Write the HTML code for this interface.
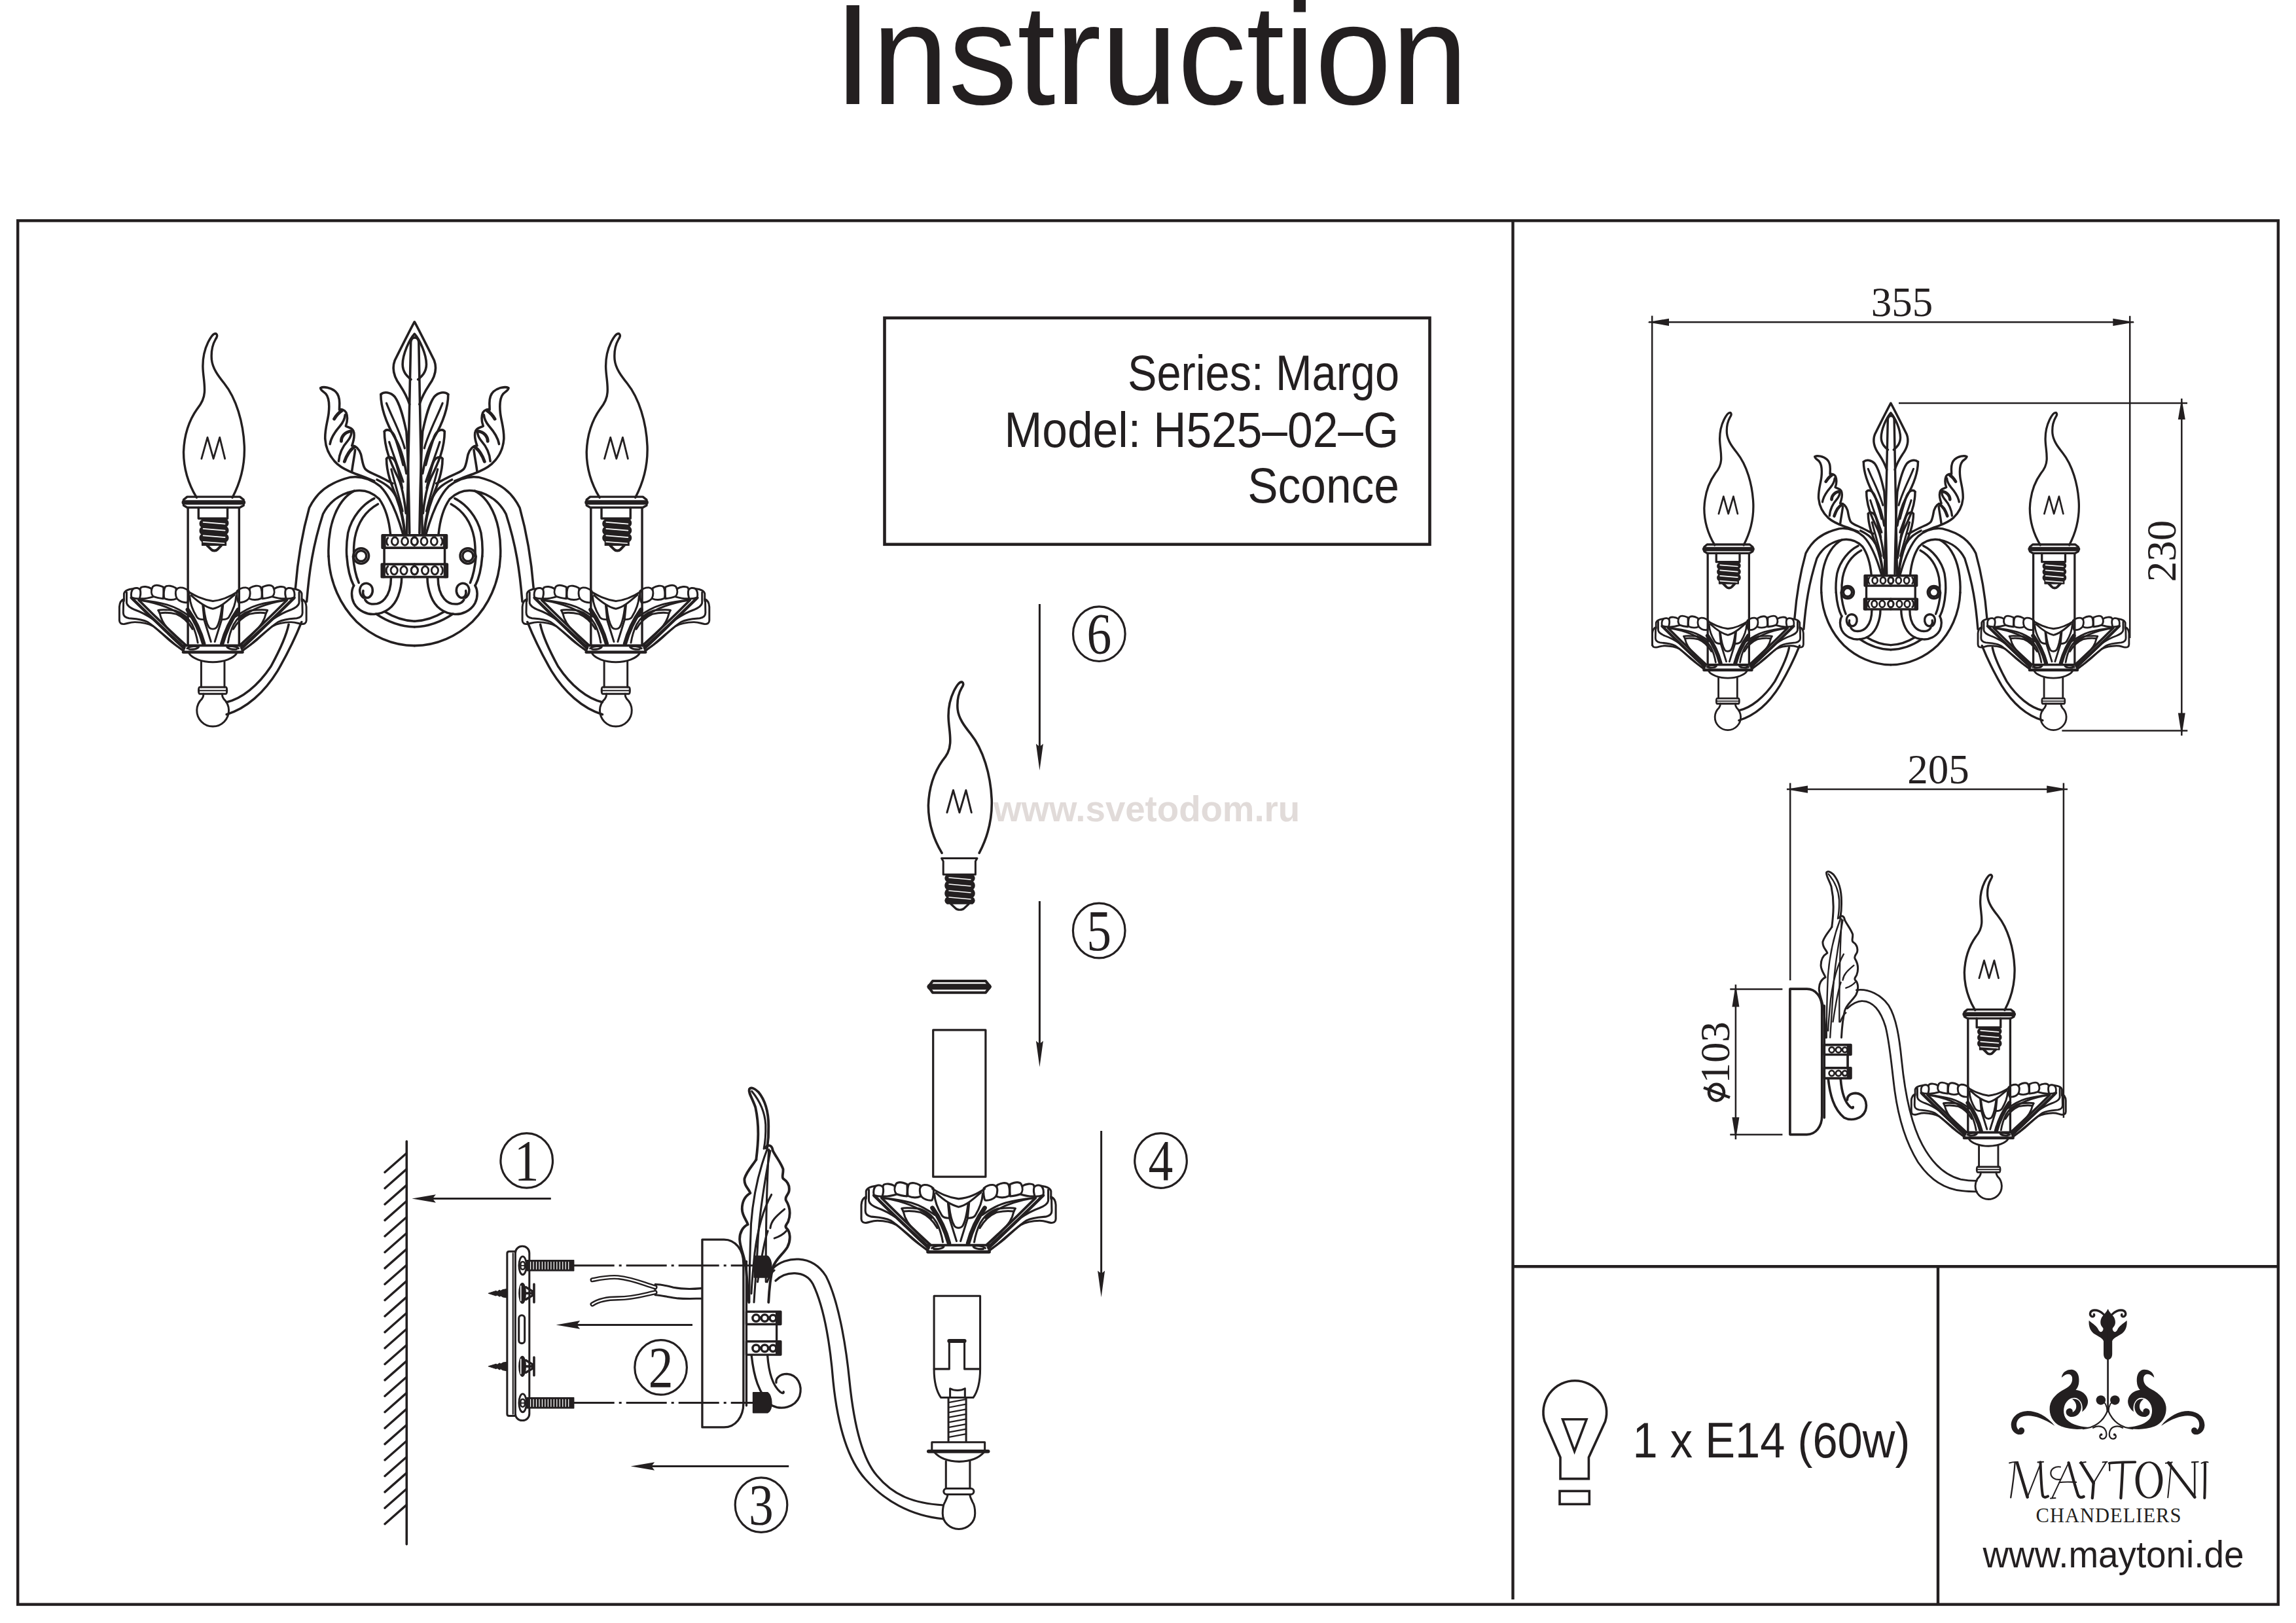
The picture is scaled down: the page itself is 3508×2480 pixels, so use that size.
<!DOCTYPE html>
<html><head><meta charset="utf-8"><style>
html,body{margin:0;padding:0;background:#fff;width:3508px;height:2480px;overflow:hidden}
svg{display:block}
</style></head><body>
<svg width="3508" height="2480" viewBox="0 0 3508 2480" font-family="Liberation Sans, sans-serif">
<defs><g id="cupHalf" fill="none" stroke="#231f20" stroke-width="40.00" stroke-linecap="round" stroke-linejoin="round">
<path d="M195,480 C140,500 105,560 100,640 L100,920 C102,978 140,1000 200,995 C280,985 300,955 420,955 C560,958 700,985 800,1040 C920,1130 1080,1270 1220,1390 C1300,1460 1370,1510 1430,1560"/>
<path d="M185,500 L180,760 C180,820 215,860 300,875 C420,885 560,890 680,950 C800,1020 960,1180 1120,1320 C1250,1430 1360,1500 1430,1545"/>
<path d="M195,520 L195,365 C210,320 260,290 310,278 L395,262"/>
<path d="M250,340 L250,560 C262,620 320,660 420,700 C560,750 700,830 800,900 C950,1040 1200,1300 1440,1510"/>
<path d="M350,452 C600,700 900,1000 1440,1480" stroke-width="60.00"/>
<path d="M500,500 C700,700 1000,1000 1480,1440" stroke-width="50.00"/>
<path d="M545,505 C700,520 900,545 1100,600 C1300,660 1450,760 1560,840"/>
<path d="M520,500 C900,560 1250,680 1500,900"/>
<path d="M905,712 C950,695 1100,700 1250,715 C1400,760 1520,860 1600,1000 C1660,1120 1700,1260 1720,1380"/>
<path d="M935,770 C1000,760 1150,760 1280,790 C1420,850 1530,960 1610,1100"/>
<path d="M905,712 L935,775 C960,900 1040,1040 1180,1170 C1300,1290 1400,1380 1460,1420"/>
<path d="M1512,700 C1640,880 1760,1100 1842,1400" stroke-width="87.50"/>
<path d="M1552,420 C1560,560 1620,720 1700,850 C1730,890 1790,905 1852,900 L1822,600"/>
<path d="M1852,910 L1992,1360"/>
<path d="M1500,1500 C1560,1450 1700,1440 1740,1470 C1720,1510 1620,1525 1540,1515"/>
<g fill="#fff">
<path d="M525,470 C510,400 510,290 545,240 C590,210 690,220 760,262 L800,430 C700,460 600,475 525,470 Z"/>
<path d="M350,445 C335,380 345,295 395,262 C440,240 505,245 530,290 C548,350 530,430 515,472 C450,472 395,465 350,445 Z"/>
<path d="M800,425 C755,380 750,300 790,222 C830,178 920,190 1010,232 C1015,330 1012,420 1005,470 C930,462 850,445 800,425 Z"/>
<path d="M1025,462 C1012,380 1018,265 1052,222 C1100,190 1190,205 1268,250 C1280,330 1285,420 1280,470 C1200,505 1100,495 1025,462 Z"/>
<path d="M1262,362 C1255,300 1292,247 1350,242 C1420,238 1490,272 1532,312 C1545,400 1525,515 1505,548 C1420,560 1335,522 1292,472 C1272,440 1262,400 1262,362 Z"/>
</g>
</g>
<g id="cupCenterTop" fill="none" stroke="#231f20" stroke-width="40.00" stroke-linecap="round" stroke-linejoin="round">
<path d="M1512,320 C1650,400 1800,490 2032,520 C2250,500 2400,420 2552,320"/>
<path d="M1582,400 C1700,510 1850,640 2032,680 C2200,650 2350,500 2482,390"/>
<path d="M1842,640 C1860,800 1900,980 1950,1060 C1990,1110 2070,1110 2112,1060 C2160,980 2200,800 2222,620"/>
<path d="M1430,1440 L2640,1440" stroke-width="50.00"/>
<path d="M1420,1575 L2644,1575" stroke-width="62.50"/>
</g>
<g id="cupStem" fill="none" stroke="#231f20" stroke-width="40.00" stroke-linecap="round" stroke-linejoin="round">
<path d="M1541,1604 C1600,1700 1800,1781 2031,1781 C2262,1781 2460,1700 2520,1604"/>
<path d="M1791,1770 L1791,2300 M2272,1770 L2272,2300"/>
<path d="M1760,2300 C1730,2300 1730,2437 1760,2437 L2300,2437 C2330,2437 2330,2300 2300,2300 Z"/>
<path d="M1745,2370 L2315,2370" stroke-width="25.00"/>
<path d="M1840,2437 C1840,2490 1820,2520 1806,2540 A330,330 0 1 0 2256,2540 C2242,2520 2222,2490 2222,2437"/>
</g>
<g id="cup">
<use href="#cupHalf"/>
<use href="#cupHalf" transform="translate(4064,0) scale(-1,1)"/>
<use href="#cupCenterTop"/><use href="#cupStem"/>
</g>
<g id="candle" fill="none" stroke="#231f20" stroke-width="15.00" stroke-linecap="round" stroke-linejoin="round">
<path d="M285,88 C270,80 250,110 232,145 C210,190 196,250 197,310 C198,370 212,420 208,480 C205,530 185,560 160,590 C110,660 72,760 68,880 C68,1000 110,1110 155,1185"/>
<path d="M285,88 C298,95 292,110 282,125 C262,160 252,210 256,260 C262,320 300,370 340,420 C420,520 468,680 475,840 C480,980 440,1100 395,1185"/>
<path d="M188,925 L228,782 L268,925 L310,782 L345,925" stroke-width="12.50"/>
<path d="M92,1180 L445,1180 L470,1200 L470,1238 L445,1252 L92,1252 L68,1238 L68,1200 Z"/>
<path d="M70,1218 L468,1218" stroke-width="30.00"/>
<path d="M97,1252 L97,2177 M440,1252 L440,2177"/>
<path d="M168,1252 L168,1325 L362,1325 L362,1252"/>
<path d="M190,1330 L350,1330 C372,1342 372,1368 352,1380 C372,1392 372,1418 352,1430 C372,1442 372,1468 352,1480 L352,1505 L192,1505 L192,1480 C172,1468 172,1442 192,1432 C172,1420 172,1394 192,1384 C172,1372 172,1346 192,1336 Z" fill="#231f20" stroke-width="7.50"/>
<path d="M200,1350 L345,1362 M200,1394 L345,1406 M200,1440 L345,1452 M200,1482 L340,1492" stroke="#fff" stroke-width="7.50"/>
<path d="M225,1505 L252,1532 C262,1544 286,1544 296,1532 L322,1505" stroke-width="17.50"/>
</g>
<g id="frontHalf" fill="none" stroke="#231f20" stroke-linecap="round" stroke-linejoin="round">
 <!-- lower arm (ZR coords) -->
 <g transform="translate(340,720) scale(0.24649)" stroke-width="14.25">
  <path d="M25,1508 C150,1470 260,1370 340,1240 C410,1120 460,1010 490,935"/>
  <path d="M25,1432 C120,1410 220,1330 300,1210 C360,1100 400,1000 410,950"/>
 </g>
 <!-- upper arm & plate (ZS coords) -->
 <g transform="translate(440,690) scale(0.19099)" stroke-width="18.38">
  <path d="M60,1090 C75,900 100,700 170,450 C230,330 320,250 500,205 C580,195 660,215 740,280 C800,340 860,450 920,660"/>
  <path d="M150,1200 C170,950 200,750 280,500 C320,420 400,340 530,315 C620,300 680,330 730,380 C780,450 810,560 820,665"/>
  <path d="M530,315 C440,360 370,470 340,620 C325,700 322,780 325,838"/>
  <path d="M690,375 C600,420 510,520 480,650 C470,710 466,780 470,838"/>
  <path d="M720,420 C630,470 560,560 535,690 C525,750 525,800 528,838"/>
  <circle cx="585" cy="835" r="62"/>
  <circle cx="585" cy="835" r="42"/>
  <path d="M755,670 L1012,670 M755,770 L1012,770 M755,670 L755,770" stroke-width="20.00"/>
  <path d="M770,770 L770,900"/>
  <path d="M770,680 L770,760" stroke-width="27.50"/>
  <g stroke-width="15.00">
   <ellipse cx="855" cy="718" rx="26" ry="32"/><ellipse cx="935" cy="718" rx="26" ry="32"/><ellipse cx="1012" cy="718" rx="26" ry="32"/>
   <path d="M800,690 C785,700 785,740 800,748"/>
  </g>
 </g>
 <!-- lower plate (ZB coords) -->
 <g transform="translate(480,850) scale(0.135026)" stroke-width="26.25">
  <path d="M163,0 C175,300 300,560 480,740 C650,900 880,1010 1135,1012"/>
  <path d="M369,0 C380,150 410,260 448,332"/>
  <path d="M440,0 C450,120 475,230 505,300"/>
  <path d="M700,652 C800,720 950,795 1135,800"/>
  <path d="M800,628 C900,690 1000,730 1135,735"/>
  <path d="M450,330 C420,380 415,460 450,530 C500,620 600,660 680,655 C800,650 900,580 950,450 C980,370 990,300 990,240"/>
  <path d="M870,240 C870,330 850,420 800,480 C760,530 700,545 650,540 C610,535 585,510 575,490"/>
  <path d="M560,470 C510,440 500,360 545,320 C590,290 650,310 660,370 C668,420 640,465 600,470 C565,470 545,430 555,390"/>
  <path d="M765,90 L1135,90 M765,235 L1135,235 M765,90 L765,235" stroke-width="27.50"/>
  <path d="M785,100 L785,225" stroke-width="42.50"/>
  <g stroke-width="21.25">
   <ellipse cx="905" cy="160" rx="38" ry="46"/><ellipse cx="1015" cy="160" rx="38" ry="46"/><ellipse cx="1135" cy="160" rx="38" ry="46"/>
   <path d="M835,115 C810,130 810,190 835,205"/>
  </g>
 </g>
 <!-- far-left leaf (ZF coords) -->
 <g transform="translate(480,580) scale(0.098600)" stroke-width="36.25">
  <path d="M100,130 C140,105 260,120 330,185 C385,235 398,300 392,400 L390,468 C420,455 470,465 495,510 C520,570 515,650 490,720 C510,740 570,735 605,790 C630,840 615,940 585,1025 C640,1020 700,1080 725,1160 C745,1240 750,1330 790,1385 C830,1430 900,1450 980,1490 C1050,1520 1120,1560 1217,1610"/>
  <path d="M100,130 C90,160 140,180 180,220 C230,280 240,380 225,520 C210,650 165,760 170,920 C180,1080 240,1200 360,1310 C440,1380 530,1420 640,1460 C760,1500 850,1540 930,1570"/>
  <path d="M310,610 C340,560 370,520 430,480" stroke-width="50.00"/>
  <path d="M245,1000 C260,900 330,800 400,720 C450,660 475,600 480,545"/>
  <path d="M420,955 C420,880 480,810 570,800" stroke-width="50.00"/>
  <path d="M380,1265 C390,1150 440,1040 520,950 C560,900 575,860 578,820"/>
  <path d="M470,1270 C500,1180 560,1080 625,1045" stroke-width="50.00"/>
  <path d="M585,1420 C600,1300 625,1180 635,1090"/>
 </g>
 <!-- leaves (ZP coords) -->
 <g transform="translate(480,480) scale(0.32025)" stroke-width="11.25">
  <path d="M300,790 C340,810 370,830 390,870 C410,920 425,980 432,1050"/>
  <path d="M318,383 C335,368 365,372 385,395 C410,430 425,490 440,560 C450,700 452,900 455,1045"/>
  <path d="M318,383 C318,450 345,520 385,590 C410,630 428,690 440,760"/>
  <path d="M345,425 C370,490 410,560 432,640" stroke-width="10.00"/>
  <path d="M335,560 C345,545 372,552 385,585 C395,615 410,660 425,720"/>
  <path d="M335,560 C335,640 365,710 400,780 C420,820 430,880 438,950"/>
  <path d="M358,610 C380,680 405,740 425,800" stroke-width="10.00"/>
  <path d="M345,690 C355,676 378,682 388,705 C398,730 410,780 420,830"/>
  <path d="M345,690 C345,770 380,840 408,910 C422,960 430,1000 432,1045"/>
  <path d="M368,740 C385,810 405,870 422,940" stroke-width="10.00"/>
  <path d="M478,38 C455,80 420,150 385,220 C370,260 380,300 410,340 C430,370 445,400 455,430"/>
  <path d="M478,95 C455,120 422,190 422,240 C422,280 448,300 462,312"/>
 </g>
</g>
<g id="frontCenter" fill="none" stroke="#231f20" stroke-linecap="round" stroke-linejoin="round">
 <g transform="translate(480,480) scale(0.32025)" stroke-width="11.25">
  <path d="M442,1050 L461,135 C462,118 470,112 480,112 C490,112 498,118 499,135 L516,1050"/>
 </g>
</g>
<g id="front">
 <use href="#frontHalf"/>
 <use href="#frontHalf" transform="translate(1266.6,0) scale(-1,1)"/>
 <use href="#frontCenter"/>
 <use href="#assy"/>
 <use href="#assy" transform="translate(615.7,0)"/>
</g>
<g id="assy">
 <g transform="translate(175,880) scale(0.073937)"><use href="#cup"/></g>
 <g transform="translate(265,490) scale(0.22805)"><use href="#candle"/></g>
</g>
<g id="sidePiece" fill="none" stroke="#231f20" stroke-linecap="round" stroke-linejoin="round">
 <path d="M55,705 L150,705 C200,705 235,750 235,810 L235,1420 C235,1480 200,1525 150,1525 L55,1525 Z"/>
 <path d="M248,800 L248,1430"/>
 <g transform="translate(147.5,0) scale(0.63578)" stroke-width="17.50">
  <path d="M225,560 C240,440 248,330 220,200 C200,140 170,100 178,75 C190,60 215,70 240,95 C285,150 310,230 310,330 C312,400 305,450 300,480"/>
  <path d="M195,90 C245,150 285,230 290,320 C292,400 285,450 278,485" stroke-width="13.75"/>
  <path d="M290,480 C300,455 330,455 338,490"/>
  <path d="M338,495 C360,540 395,580 410,625 C412,660 400,675 410,690 C440,710 458,740 450,780 C440,810 420,815 430,840 C455,880 465,930 445,985 C435,1005 420,1015 432,1030 C460,1055 465,1110 440,1160 C410,1210 360,1240 340,1300 C325,1360 315,1440 310,1540"/>
  <path d="M225,560 C200,600 160,640 145,690 C140,740 175,760 185,790 C150,810 128,850 128,900 C130,950 160,975 168,1005 C135,1020 110,1060 112,1110 C115,1170 145,1220 155,1300 C162,1380 168,1460 175,1540"/>
  <g stroke-width="13.75">
   <path d="M300,490 C250,620 205,800 190,1000 C182,1200 178,1400 178,1540"/>
   <path d="M322,500 C285,700 250,900 238,1100 C228,1300 215,1450 210,1540"/>
   <path d="M312,490 C300,700 290,1000 292,1400"/>
   <path d="M330,800 C285,880 240,1000 215,1200 C205,1300 195,1400 192,1480"/>
   <path d="M305,1050 C280,1120 258,1250 235,1400"/>
   <path d="M322,1030 C328,980 360,950 420,900"/>
   <path d="M350,1100 C380,1090 410,1075 432,1050"/>
   <path d="M300,1400 C320,1350 335,1330 350,1320"/>
  </g>
 </g>
 <path d="M248,1020 L398,1020 L398,1075 L248,1075 Z M248,1150 L398,1150 L398,1208 L248,1208 Z M380,1075 L380,1150"/>
 <g stroke-width="10.00"><circle cx="290" cy="1048" r="15"/><circle cx="328" cy="1048" r="15"/><circle cx="364" cy="1048" r="14"/><circle cx="290" cy="1180" r="15"/><circle cx="328" cy="1180" r="15"/><circle cx="364" cy="1180" r="14"/></g>
 <path d="M386,1030 L386,1066 M386,1160 L386,1198" stroke-width="22.50"/>
 <path d="M270,1210 C280,1300 300,1380 360,1430 C400,1450 460,1440 480,1390 C495,1340 470,1295 425,1292 C395,1292 375,1310 378,1330"/>
 <path d="M340,1210 C345,1280 360,1340 395,1370 C405,1378 412,1378 410,1370"/>
</g>
<g id="flame" fill="none" stroke="#231f20" stroke-width="15.00" stroke-linecap="round" stroke-linejoin="round">
<path d="M285,88 C270,80 250,110 232,145 C210,190 196,250 197,310 C198,370 212,420 208,480 C205,530 185,560 160,590 C110,660 72,760 68,880 C68,1000 110,1110 155,1185"/>
<path d="M285,88 C298,95 292,110 282,125 C262,160 252,210 256,260 C262,320 300,370 340,420 C420,520 468,680 475,840 C480,980 440,1100 395,1185"/>
<path d="M188,925 L228,782 L268,925 L310,782 L345,925" stroke-width="12.50"/>
</g>
<g id="cupTop">
<use href="#cupHalf"/>
<use href="#cupHalf" transform="translate(4064,0) scale(-1,1)"/>
<use href="#cupCenterTop"/>
</g>
<g id="cupHalf_r" fill="none" stroke="#231f20" stroke-width="47.20" stroke-linecap="round" stroke-linejoin="round">
<path d="M195,480 C140,500 105,560 100,640 L100,920 C102,978 140,1000 200,995 C280,985 300,955 420,955 C560,958 700,985 800,1040 C920,1130 1080,1270 1220,1390 C1300,1460 1370,1510 1430,1560"/>
<path d="M185,500 L180,760 C180,820 215,860 300,875 C420,885 560,890 680,950 C800,1020 960,1180 1120,1320 C1250,1430 1360,1500 1430,1545"/>
<path d="M195,520 L195,365 C210,320 260,290 310,278 L395,262"/>
<path d="M250,340 L250,560 C262,620 320,660 420,700 C560,750 700,830 800,900 C950,1040 1200,1300 1440,1510"/>
<path d="M350,452 C600,700 900,1000 1440,1480" stroke-width="70.80"/>
<path d="M500,500 C700,700 1000,1000 1480,1440" stroke-width="59.00"/>
<path d="M545,505 C700,520 900,545 1100,600 C1300,660 1450,760 1560,840"/>
<path d="M520,500 C900,560 1250,680 1500,900"/>
<path d="M905,712 C950,695 1100,700 1250,715 C1400,760 1520,860 1600,1000 C1660,1120 1700,1260 1720,1380"/>
<path d="M935,770 C1000,760 1150,760 1280,790 C1420,850 1530,960 1610,1100"/>
<path d="M905,712 L935,775 C960,900 1040,1040 1180,1170 C1300,1290 1400,1380 1460,1420"/>
<path d="M1512,700 C1640,880 1760,1100 1842,1400" stroke-width="103.25"/>
<path d="M1552,420 C1560,560 1620,720 1700,850 C1730,890 1790,905 1852,900 L1822,600"/>
<path d="M1852,910 L1992,1360"/>
<path d="M1500,1500 C1560,1450 1700,1440 1740,1470 C1720,1510 1620,1525 1540,1515"/>
<g fill="#fff">
<path d="M525,470 C510,400 510,290 545,240 C590,210 690,220 760,262 L800,430 C700,460 600,475 525,470 Z"/>
<path d="M350,445 C335,380 345,295 395,262 C440,240 505,245 530,290 C548,350 530,430 515,472 C450,472 395,465 350,445 Z"/>
<path d="M800,425 C755,380 750,300 790,222 C830,178 920,190 1010,232 C1015,330 1012,420 1005,470 C930,462 850,445 800,425 Z"/>
<path d="M1025,462 C1012,380 1018,265 1052,222 C1100,190 1190,205 1268,250 C1280,330 1285,420 1280,470 C1200,505 1100,495 1025,462 Z"/>
<path d="M1262,362 C1255,300 1292,247 1350,242 C1420,238 1490,272 1532,312 C1545,400 1525,515 1505,548 C1420,560 1335,522 1292,472 C1272,440 1262,400 1262,362 Z"/>
</g>
</g>
<g id="cupCenterTop_r" fill="none" stroke="#231f20" stroke-width="47.20" stroke-linecap="round" stroke-linejoin="round">
<path d="M1512,320 C1650,400 1800,490 2032,520 C2250,500 2400,420 2552,320"/>
<path d="M1582,400 C1700,510 1850,640 2032,680 C2200,650 2350,500 2482,390"/>
<path d="M1842,640 C1860,800 1900,980 1950,1060 C1990,1110 2070,1110 2112,1060 C2160,980 2200,800 2222,620"/>
<path d="M1430,1440 L2640,1440" stroke-width="59.00"/>
<path d="M1420,1575 L2644,1575" stroke-width="73.75"/>
</g>
<g id="cupStem_r" fill="none" stroke="#231f20" stroke-width="47.20" stroke-linecap="round" stroke-linejoin="round">
<path d="M1541,1604 C1600,1700 1800,1781 2031,1781 C2262,1781 2460,1700 2520,1604"/>
<path d="M1791,1770 L1791,2300 M2272,1770 L2272,2300"/>
<path d="M1760,2300 C1730,2300 1730,2437 1760,2437 L2300,2437 C2330,2437 2330,2300 2300,2300 Z"/>
<path d="M1745,2370 L2315,2370" stroke-width="29.50"/>
<path d="M1840,2437 C1840,2490 1820,2520 1806,2540 A330,330 0 1 0 2256,2540 C2242,2520 2222,2490 2222,2437"/>
</g>
<g id="cup_r">
<use href="#cupHalf_r"/>
<use href="#cupHalf_r" transform="translate(4064,0) scale(-1,1)"/>
<use href="#cupCenterTop_r"/><use href="#cupStem_r"/>
</g>
<g id="candle_r" fill="none" stroke="#231f20" stroke-width="17.70" stroke-linecap="round" stroke-linejoin="round">
<path d="M285,88 C270,80 250,110 232,145 C210,190 196,250 197,310 C198,370 212,420 208,480 C205,530 185,560 160,590 C110,660 72,760 68,880 C68,1000 110,1110 155,1185"/>
<path d="M285,88 C298,95 292,110 282,125 C262,160 252,210 256,260 C262,320 300,370 340,420 C420,520 468,680 475,840 C480,980 440,1100 395,1185"/>
<path d="M188,925 L228,782 L268,925 L310,782 L345,925" stroke-width="14.75"/>
<path d="M92,1180 L445,1180 L470,1200 L470,1238 L445,1252 L92,1252 L68,1238 L68,1200 Z"/>
<path d="M70,1218 L468,1218" stroke-width="35.40"/>
<path d="M97,1252 L97,2177 M440,1252 L440,2177"/>
<path d="M168,1252 L168,1325 L362,1325 L362,1252"/>
<path d="M190,1330 L350,1330 C372,1342 372,1368 352,1380 C372,1392 372,1418 352,1430 C372,1442 372,1468 352,1480 L352,1505 L192,1505 L192,1480 C172,1468 172,1442 192,1432 C172,1420 172,1394 192,1384 C172,1372 172,1346 192,1336 Z" fill="#231f20" stroke-width="8.85"/>
<path d="M200,1350 L345,1362 M200,1394 L345,1406 M200,1440 L345,1452 M200,1482 L340,1492" stroke="#fff" stroke-width="8.85"/>
<path d="M225,1505 L252,1532 C262,1544 286,1544 296,1532 L322,1505" stroke-width="20.65"/>
</g>
<g id="frontHalf_r" fill="none" stroke="#231f20" stroke-linecap="round" stroke-linejoin="round">
 
 <g transform="translate(340,720) scale(0.24649)" stroke-width="16.81">
  <path d="M25,1508 C150,1470 260,1370 340,1240 C410,1120 460,1010 490,935"/>
  <path d="M25,1432 C120,1410 220,1330 300,1210 C360,1100 400,1000 410,950"/>
 </g>
 
 <g transform="translate(440,690) scale(0.19099)" stroke-width="21.69">
  <path d="M60,1090 C75,900 100,700 170,450 C230,330 320,250 500,205 C580,195 660,215 740,280 C800,340 860,450 920,660"/>
  <path d="M150,1200 C170,950 200,750 280,500 C320,420 400,340 530,315 C620,300 680,330 730,380 C780,450 810,560 820,665"/>
  <path d="M530,315 C440,360 370,470 340,620 C325,700 322,780 325,838"/>
  <path d="M690,375 C600,420 510,520 480,650 C470,710 466,780 470,838"/>
  <path d="M720,420 C630,470 560,560 535,690 C525,750 525,800 528,838"/>
  <circle cx="585" cy="835" r="62"/>
  <circle cx="585" cy="835" r="42"/>
  <path d="M755,670 L1012,670 M755,770 L1012,770 M755,670 L755,770" stroke-width="23.60"/>
  <path d="M770,770 L770,900"/>
  <path d="M770,680 L770,760" stroke-width="32.45"/>
  <g stroke-width="17.70">
   <ellipse cx="855" cy="718" rx="26" ry="32"/><ellipse cx="935" cy="718" rx="26" ry="32"/><ellipse cx="1012" cy="718" rx="26" ry="32"/>
   <path d="M800,690 C785,700 785,740 800,748"/>
  </g>
 </g>
 
 <g transform="translate(480,850) scale(0.135026)" stroke-width="30.97">
  <path d="M163,0 C175,300 300,560 480,740 C650,900 880,1010 1135,1012"/>
  <path d="M369,0 C380,150 410,260 448,332"/>
  <path d="M440,0 C450,120 475,230 505,300"/>
  <path d="M700,652 C800,720 950,795 1135,800"/>
  <path d="M800,628 C900,690 1000,730 1135,735"/>
  <path d="M450,330 C420,380 415,460 450,530 C500,620 600,660 680,655 C800,650 900,580 950,450 C980,370 990,300 990,240"/>
  <path d="M870,240 C870,330 850,420 800,480 C760,530 700,545 650,540 C610,535 585,510 575,490"/>
  <path d="M560,470 C510,440 500,360 545,320 C590,290 650,310 660,370 C668,420 640,465 600,470 C565,470 545,430 555,390"/>
  <path d="M765,90 L1135,90 M765,235 L1135,235 M765,90 L765,235" stroke-width="32.45"/>
  <path d="M785,100 L785,225" stroke-width="50.15"/>
  <g stroke-width="25.07">
   <ellipse cx="905" cy="160" rx="38" ry="46"/><ellipse cx="1015" cy="160" rx="38" ry="46"/><ellipse cx="1135" cy="160" rx="38" ry="46"/>
   <path d="M835,115 C810,130 810,190 835,205"/>
  </g>
 </g>
 
 <g transform="translate(480,580) scale(0.098600)" stroke-width="42.77">
  <path d="M100,130 C140,105 260,120 330,185 C385,235 398,300 392,400 L390,468 C420,455 470,465 495,510 C520,570 515,650 490,720 C510,740 570,735 605,790 C630,840 615,940 585,1025 C640,1020 700,1080 725,1160 C745,1240 750,1330 790,1385 C830,1430 900,1450 980,1490 C1050,1520 1120,1560 1217,1610"/>
  <path d="M100,130 C90,160 140,180 180,220 C230,280 240,380 225,520 C210,650 165,760 170,920 C180,1080 240,1200 360,1310 C440,1380 530,1420 640,1460 C760,1500 850,1540 930,1570"/>
  <path d="M310,610 C340,560 370,520 430,480" stroke-width="59.00"/>
  <path d="M245,1000 C260,900 330,800 400,720 C450,660 475,600 480,545"/>
  <path d="M420,955 C420,880 480,810 570,800" stroke-width="59.00"/>
  <path d="M380,1265 C390,1150 440,1040 520,950 C560,900 575,860 578,820"/>
  <path d="M470,1270 C500,1180 560,1080 625,1045" stroke-width="59.00"/>
  <path d="M585,1420 C600,1300 625,1180 635,1090"/>
 </g>
 
 <g transform="translate(480,480) scale(0.32025)" stroke-width="13.27">
  <path d="M300,790 C340,810 370,830 390,870 C410,920 425,980 432,1050"/>
  <path d="M318,383 C335,368 365,372 385,395 C410,430 425,490 440,560 C450,700 452,900 455,1045"/>
  <path d="M318,383 C318,450 345,520 385,590 C410,630 428,690 440,760"/>
  <path d="M345,425 C370,490 410,560 432,640" stroke-width="11.80"/>
  <path d="M335,560 C345,545 372,552 385,585 C395,615 410,660 425,720"/>
  <path d="M335,560 C335,640 365,710 400,780 C420,820 430,880 438,950"/>
  <path d="M358,610 C380,680 405,740 425,800" stroke-width="11.80"/>
  <path d="M345,690 C355,676 378,682 388,705 C398,730 410,780 420,830"/>
  <path d="M345,690 C345,770 380,840 408,910 C422,960 430,1000 432,1045"/>
  <path d="M368,740 C385,810 405,870 422,940" stroke-width="11.80"/>
  <path d="M478,38 C455,80 420,150 385,220 C370,260 380,300 410,340 C430,370 445,400 455,430"/>
  <path d="M478,95 C455,120 422,190 422,240 C422,280 448,300 462,312"/>
 </g>
</g>
<g id="frontCenter_r" fill="none" stroke="#231f20" stroke-linecap="round" stroke-linejoin="round">
 <g transform="translate(480,480) scale(0.32025)" stroke-width="13.27">
  <path d="M442,1050 L461,135 C462,118 470,112 480,112 C490,112 498,118 499,135 L516,1050"/>
 </g>
</g>
<g id="front_r">
 <use href="#frontHalf_r"/>
 <use href="#frontHalf_r" transform="translate(1266.6,0) scale(-1,1)"/>
 <use href="#frontCenter_r"/>
 <use href="#assy_r"/>
 <use href="#assy_r" transform="translate(615.7,0)"/>
</g>
<g id="assy_r">
 <g transform="translate(175,880) scale(0.073937)"><use href="#cup_r"/></g>
 <g transform="translate(265,490) scale(0.22805)"><use href="#candle_r"/></g>
</g>
<g id="sidePiece_r" fill="none" stroke="#231f20" stroke-linecap="round" stroke-linejoin="round">
 <path d="M55,705 L150,705 C200,705 235,750 235,810 L235,1420 C235,1480 200,1525 150,1525 L55,1525 Z"/>
 <path d="M248,800 L248,1430"/>
 <g transform="translate(147.5,0) scale(0.63578)" stroke-width="20.65">
  <path d="M225,560 C240,440 248,330 220,200 C200,140 170,100 178,75 C190,60 215,70 240,95 C285,150 310,230 310,330 C312,400 305,450 300,480"/>
  <path d="M195,90 C245,150 285,230 290,320 C292,400 285,450 278,485" stroke-width="16.22"/>
  <path d="M290,480 C300,455 330,455 338,490"/>
  <path d="M338,495 C360,540 395,580 410,625 C412,660 400,675 410,690 C440,710 458,740 450,780 C440,810 420,815 430,840 C455,880 465,930 445,985 C435,1005 420,1015 432,1030 C460,1055 465,1110 440,1160 C410,1210 360,1240 340,1300 C325,1360 315,1440 310,1540"/>
  <path d="M225,560 C200,600 160,640 145,690 C140,740 175,760 185,790 C150,810 128,850 128,900 C130,950 160,975 168,1005 C135,1020 110,1060 112,1110 C115,1170 145,1220 155,1300 C162,1380 168,1460 175,1540"/>
  <g stroke-width="16.22">
   <path d="M300,490 C250,620 205,800 190,1000 C182,1200 178,1400 178,1540"/>
   <path d="M322,500 C285,700 250,900 238,1100 C228,1300 215,1450 210,1540"/>
   <path d="M312,490 C300,700 290,1000 292,1400"/>
   <path d="M330,800 C285,880 240,1000 215,1200 C205,1300 195,1400 192,1480"/>
   <path d="M305,1050 C280,1120 258,1250 235,1400"/>
   <path d="M322,1030 C328,980 360,950 420,900"/>
   <path d="M350,1100 C380,1090 410,1075 432,1050"/>
   <path d="M300,1400 C320,1350 335,1330 350,1320"/>
  </g>
 </g>
 <path d="M248,1020 L398,1020 L398,1075 L248,1075 Z M248,1150 L398,1150 L398,1208 L248,1208 Z M380,1075 L380,1150"/>
 <g stroke-width="11.80"><circle cx="290" cy="1048" r="15"/><circle cx="328" cy="1048" r="15"/><circle cx="364" cy="1048" r="14"/><circle cx="290" cy="1180" r="15"/><circle cx="328" cy="1180" r="15"/><circle cx="364" cy="1180" r="14"/></g>
 <path d="M386,1030 L386,1066 M386,1160 L386,1198" stroke-width="26.55"/>
 <path d="M270,1210 C280,1300 300,1380 360,1430 C400,1450 460,1440 480,1390 C495,1340 470,1295 425,1292 C395,1292 375,1310 378,1330"/>
 <path d="M340,1210 C345,1280 360,1340 395,1370 C405,1378 412,1378 410,1370"/>
</g>
</defs>
<g fill="none" stroke="#231f20" stroke-width="4.4"><rect x="27.2" y="337.2" width="3453.6" height="2114.4"/><line x1="2311.5" y1="337" x2="2311.5" y2="2444"/><line x1="2311" y1="1935.3" x2="3481" y2="1935.3"/><line x1="2961" y1="1935" x2="2961" y2="2452"/></g><rect x="1351.5" y="485.8" width="833" height="346" fill="none" stroke="#231f20" stroke-width="4.6"/><g fill="#231f20">
<text transform="translate(1274,159) scale(1,1.04)" font-size="210">Instruction</text>
<g text-anchor="end" font-size="69.5">
<text transform="translate(2138,596.3) scale(1,1.085)" textLength="415" lengthAdjust="spacingAndGlyphs">Series: Margo</text>
<text transform="translate(2137,682.6) scale(1,1.085)">Model: H525–02–G</text>
<text transform="translate(2138,767.6) scale(1,1.085)">Sconce</text>
</g>
<text transform="translate(2494.5,2227.2) scale(1,1.10)" font-size="68.7">1 x E14 (60w)</text>
<text transform="translate(3029.5,2394.7) scale(1,1.04)" font-size="54.8">www.maytoni.de</text>
</g>
<text x="1518" y="1255" font-size="54.6" font-weight="bold" fill="#e1dbd9">www.svetodom.ru</text>
<use href="#front"/>
<use href="#front_r" transform="translate(2889,615.7) scale(0.808,0.808) translate(-633.45,-491.4)"/>
<g fill="none" stroke="#231f20" stroke-linecap="round" stroke-linejoin="round">
 <g transform="translate(1402.2,1021.5) scale(0.23786)"><use href="#flame"/></g>
 <path d="M1438.5,1311.5 L1493,1311.5 L1490.4,1316 L1490.4,1336.2 L1441.2,1336.2 L1441.2,1316 Z" stroke-width="3"/>
 <path d="M1448,1336.5 L1485,1336.5 C1490,1339 1490,1344 1486,1347 C1490,1350 1490,1356 1486,1359 C1490,1362 1490,1368 1486,1371 C1490,1374 1490,1378 1486,1381 L1447,1381 C1443,1378 1443,1374 1447,1371 C1443,1368 1443,1362 1447,1359 C1443,1356 1443,1350 1447,1347 C1443,1344 1443,1339 1448,1336.5 Z" fill="#231f20" stroke-width="1.5"/>
 <path d="M1450,1341 L1483,1344 M1450,1351 L1483,1354 M1450,1361 L1483,1364 M1450,1371 L1483,1374" stroke="#fff" stroke-width="1.5"/>
 <path d="M1453,1381.5 L1460,1388 C1463,1391 1470,1391 1473,1388 L1480,1381.5" stroke-width="3.2"/>
 <path d="M1425,1499 L1506,1499 L1513,1507.8 L1506,1516.7 L1425,1516.7 L1418.5,1507.8 Z" stroke-width="4"/>
 <path d="M1421,1507.8 L1510,1507.8" stroke-width="9"/>
 <rect x="1425.7" y="1573.8" width="80.2" height="224.4" stroke-width="3.2"/>
 <g transform="translate(1464.5,1805.6) scale(1.04) translate(-325.2,-893.2)"><g transform="translate(175,880) scale(0.073937)"><use href="#cupTop"/></g></g>
 <g transform="translate(1180,1960) scale(0.25265)" stroke-width="12">
  <path d="M978,80 L1257,80 L1257,522 L1162,522 L1162,350 L1070,350 L1070,522 L978,522 Z"/>
  <path d="M1070,352 L1162,352" stroke-width="24"/>
  <path d="M978,522 C978,600 995,660 1020,695 L1215,695 C1240,660 1257,600 1257,522"/>
  <path d="M1075,695 L1075,640 C1100,655 1140,655 1165,640 L1165,695"/>
  <path d="M1065,695 L1065,960 M1172,695 L1172,960"/>
  <path d="M1065,725 L1172,705 M1065,755 L1172,735 M1065,785 L1172,765 M1065,815 L1172,795 M1065,845 L1172,825 M1065,875 L1172,855 M1065,905 L1172,885 M1065,935 L1172,915" stroke-width="9"/>
  <path d="M965,965 L1285,965 L1285,1015 L965,1015 Z"/>
  <path d="M945,1020 L1305,1020" stroke-width="22"/>
  <path d="M980,1025 C1010,1060 1060,1080 1130,1082 C1200,1080 1250,1060 1280,1025"/>
  <path d="M1050,1080 L1050,1245 M1195,1080 L1195,1245"/>
  <path d="M1055,1245 L1200,1245 C1225,1245 1225,1280 1200,1280 L1055,1280 C1030,1280 1030,1245 1055,1245 Z"/>
  <path d="M1060,1280 C1060,1300 1050,1310 1045,1325 C1035,1340 1030,1370 1030,1395 C1030,1450 1075,1490 1128,1490 C1181,1490 1226,1450 1226,1395 C1226,1370 1220,1340 1210,1325 C1205,1310 1195,1300 1195,1280"/>
 </g>
</g>
<g transform="translate(2720,1320) scale(0.27119)"><use href="#sidePiece" stroke-width="13.5"/></g>
<g transform="translate(2820,1480) scale(0.23425)" fill="none" stroke="#231f20" stroke-width="12" stroke-linecap="round">
 <path d="M70,140 C150,130 230,170 280,240 C330,320 350,450 365,600 C385,800 420,1000 500,1150 C570,1280 650,1350 750,1375 C800,1385 830,1385 855,1385"/>
 <path d="M10,260 C40,230 80,210 110,212 C180,215 230,280 260,380 C290,500 300,650 320,800 C345,980 390,1130 470,1260 C550,1380 650,1440 760,1450 C800,1455 830,1455 855,1455"/>
</g>
<use href="#assy_r" transform="translate(3038.5,1335.2) scale(0.826) translate(-325.5,-508)"/>
<g fill="none" stroke="#231f20" stroke-linecap="round" stroke-linejoin="round">
 <path d="M621.3,1744 L621.3,2359.6" stroke-width="3.6"/>
 <path stroke-width="3.4" d="M588,1791.3 L621.3,1762 M588,1815.7 L621.3,1786.4 M588,1840.2 L621.3,1810.9 M588,1864.6 L621.3,1835.3 M588,1889 L621.3,1859.7 M588,1913.5 L621.3,1884.2 M588,1937.9 L621.3,1908.6 M588,1962.3 L621.3,1933 M588,1986.7 L621.3,1957.4 M588,2011.2 L621.3,1981.9 M588,2035.6 L621.3,2006.3 M588,2060 L621.3,2030.7 M588,2084.5 L621.3,2055.2 M588,2108.9 L621.3,2079.6 M588,2133.3 L621.3,2104 M588,2157.7 L621.3,2128.4 M588,2182.2 L621.3,2152.9 M588,2206.6 L621.3,2177.3 M588,2231 L621.3,2201.7 M588,2255.5 L621.3,2226.2 M588,2279.9 L621.3,2250.6 M588,2304.3 L621.3,2275 M588,2328.7 L621.3,2299.4"/>
 <!-- bracket (ZK) -->
 <g transform="translate(740,1890) scale(0.17872)" stroke-width="17">
  <path d="M265,125 L212,125 Q195,125 195,142 L195,1513 Q195,1530 212,1530 L265,1530"/>
  <path d="M245,140 L245,1515" stroke-width="12"/>
  <rect x="265" y="80" width="120" height="1490" rx="58" fill="#fff"/>
  <g>
   <path d="M360,200 L765,200 L765,290 L360,290" fill="#231f20" stroke-width="8"/>
   <path d="M395,215 L395,275 M420,215 L420,275 M445,215 L445,275 M470,215 L470,275 M495,215 L495,275 M520,215 L520,275 M545,215 L545,275 M570,215 L570,275 M595,215 L595,275 M620,215 L620,275 M645,215 L645,275 M670,215 L670,275 M695,215 L695,275 M720,215 L720,275" stroke="#fff" stroke-width="7"/>
   <ellipse cx="328" cy="245" rx="32" ry="78" fill="#fff" stroke-width="16"/>
   <rect x="310" y="212" width="36" height="66" rx="18" stroke-width="14"/>
   <path d="M312,245 L346,245" stroke-width="10"/>
  </g>
  <g transform="translate(0,1175)">
   <path d="M360,200 L765,200 L765,290 L360,290" fill="#231f20" stroke-width="8"/>
   <path d="M395,215 L395,275 M420,215 L420,275 M445,215 L445,275 M470,215 L470,275 M495,215 L495,275 M520,215 L520,275 M545,215 L545,275 M570,215 L570,275 M595,215 L595,275 M620,215 L620,275 M645,215 L645,275 M670,215 L670,275 M695,215 L695,275 M720,215 L720,275" stroke="#fff" stroke-width="7"/>
   <ellipse cx="328" cy="245" rx="32" ry="78" fill="#fff" stroke-width="16"/>
   <rect x="310" y="212" width="36" height="66" rx="18" stroke-width="14"/>
   <path d="M312,245 L346,245" stroke-width="10"/>
  </g>
  <g>
   <path d="M35,482 L100,462 L110,468 L130,455 L140,462 L160,450 L195,445 L195,520 L160,515 L140,503 L130,510 L110,497 L100,503 Z" fill="#231f20" stroke-width="6"/>
   <ellipse cx="325" cy="482" rx="28" ry="85" fill="#231f20" stroke-width="10"/>
   <path d="M350,482 L425,482 M425,405 L425,560 M355,430 L420,470 M355,535 L420,495" stroke-width="20"/>
   <path d="M312,420 L312,545" stroke="#fff" stroke-width="9"/>
  </g>
  <g transform="translate(0,625)">
   <path d="M35,482 L100,462 L110,468 L130,455 L140,462 L160,450 L195,445 L195,520 L160,515 L140,503 L130,510 L110,497 L100,503 Z" fill="#231f20" stroke-width="6"/>
   <ellipse cx="325" cy="482" rx="28" ry="85" fill="#231f20" stroke-width="10"/>
   <path d="M350,482 L425,482 M425,405 L425,560 M355,430 L420,470 M355,535 L420,495" stroke-width="20"/>
   <path d="M312,420 L312,545" stroke="#fff" stroke-width="9"/>
  </g>
  <rect x="295" y="670" width="50" height="240" rx="25" stroke-width="17"/>
 </g>
 <!-- dash-dot lines -->
 <path d="M876.7,1933.8 L1152,1933.8 M876.7,2143.5 L1152,2143.5" stroke-width="3" stroke-dasharray="62 7 4 7" stroke-linecap="butt"/>
 <!-- wires (ZQ) -->
 <g transform="translate(900,1650) scale(0.33898)">
  <path d="M505,940 C460,944 420,944 380,936 C350,928 320,922 298,922 L298,970 C330,972 360,980 400,985 C440,988 480,986 505,986" stroke-width="9" fill="#fff"/>
  <path d="M298,935 C250,922 200,897 130,890 C80,887 40,897 15,902" stroke-width="21"/>
  <path d="M298,935 C250,922 200,897 130,890 C80,887 40,897 15,902" stroke="#fff" stroke-width="7"/>
  <path d="M298,958 C250,968 200,985 130,985 C80,985 40,995 15,1012" stroke-width="21"/>
  <path d="M298,958 C250,968 200,985 130,985 C80,985 40,995 15,1012" stroke="#fff" stroke-width="7"/>
 </g>
 <!-- side piece -->
 <g transform="translate(1072.9,1894.1) scale(1.29) translate(-2734.9,-1511.2)"><g transform="translate(2720,1320) scale(0.27119)"><use href="#sidePiece" stroke-width="9.5"/></g></g>
 <!-- nuts (ZQ) -->
 <g transform="translate(900,1650) scale(0.33898)" fill="#231f20" stroke-width="6">
  <path d="M745,795 L805,795 C825,810 830,870 805,890 L745,890 Z"/>
  <path d="M740,1410 L805,1410 C825,1425 830,1485 805,1500 L740,1500 Z"/>
 </g>
 <!-- assembly arm -->
 <path stroke-width="3.2" d="M1181,1938 C1200,1920 1240,1915 1262,1950 C1280,1985 1292,2050 1298,2111 C1305,2180 1318,2230 1340,2255 C1365,2285 1395,2297 1441.5,2300"/>
 <path stroke-width="3.2" d="M1185,1957 C1200,1942 1230,1940 1242,1962 C1258,1995 1268,2050 1273,2111 C1280,2180 1295,2230 1322,2260 C1350,2292 1390,2316 1441.5,2321"/>
 <!-- arrows lines -->
 <path stroke-width="3" stroke-linecap="butt" d="M841.8,1831.5 L650,1831.5 M1058,2024.4 L870,2024.4 M1205.2,2240.5 L985,2240.5 M1588.4,922.9 L1588.4,1155 M1588.4,1376.9 L1588.4,1610 M1682.6,1728 L1682.6,1960"/>
</g>
<g fill="#231f20">
 <path d="M629.3,1831.5 L665.9,1825.2 L661,1831.5 L665.9,1837.8 Z"/>
 <path d="M849.6,2024.4 L886.2,2018.1 L881.3,2024.4 L886.2,2030.7 Z"/>
 <path d="M963.6,2240.5 L1000.2,2234.2 L995.3,2240.5 L1000.2,2246.8 Z"/>
 <path d="M1588.4,1177.3 L1582.9,1136.6 L1588.4,1141 L1593.9,1136.6 Z"/>
 <path d="M1588.4,1630.4 L1582.9,1590.5 L1588.4,1595 L1593.9,1590.5 Z"/>
 <path d="M1682.6,1982.3 L1677.1,1941.7 L1682.6,1946 L1688.1,1941.7 Z"/>
</g>
<g fill="none" stroke="#231f20" stroke-width="3.2">
 <ellipse cx="804.7" cy="1773.4" rx="39.8" ry="41.8"/>
 <ellipse cx="1009.6" cy="2089.4" rx="39.8" ry="41.8"/>
 <ellipse cx="1163" cy="2299.6" rx="39.8" ry="41.8"/>
 <ellipse cx="1773.5" cy="1773.5" rx="39.8" ry="41.8"/>
 <ellipse cx="1679.2" cy="1422" rx="39.8" ry="41.8"/>
 <ellipse cx="1679.3" cy="968.7" rx="39.8" ry="41.8"/>
</g>
<g font-family="Liberation Serif" fill="#231f20" font-size="84" text-anchor="middle">
 <text transform="translate(804.7,1802.9) scale(0.9,1.06)">1</text>
 <text transform="translate(1009.6,2118.9) scale(0.9,1.06)">2</text>
 <text transform="translate(1163,2329.1) scale(0.9,1.06)">3</text>
 <text transform="translate(1773.5,1803.0) scale(0.9,1.06)">4</text>
 <text transform="translate(1679.2,1451.5) scale(0.9,1.06)">5</text>
 <text transform="translate(1679.3,998.2) scale(0.9,1.06)">6</text>
</g>
<g fill="none" stroke="#231f20" stroke-linejoin="miter">
 <path d="M2384,2259.6 L2384,2227 L2360,2172 A48.35,48.35 0 1 1 2452.6,2172 L2427.4,2227 L2427.4,2259.6 Z" stroke-width="3.6"/>
 <path d="M2387.5,2168.8 L2424,2168.8 L2405.6,2217.5 Z" stroke-width="3.6"/>
 <rect x="2383" y="2278.4" width="45.3" height="20" stroke-width="3.6"/>
</g>
<g id="logoOrn">
<g id="logoHalf" transform="translate(3060,1990) scale(0.139373)">
 <g fill="#231f20">
  <path d="M1152,78 C1140,100 1120,125 1095,150 C1065,185 1062,245 1092,272 C1106,285 1104,300 1090,318 C1075,332 1058,322 1048,300 C1030,262 990,238 945,200 C938,262 960,320 1010,350 C1050,375 1092,392 1105,425 L1105,565 C1105,605 1125,628 1152,630 L1158,630 L1158,78 Z"/>
  <circle cx="1075" cy="1072" r="52"/>
  <path d="M645,825 C650,770 700,735 760,738 C815,745 840,800 835,870 C833,910 820,940 800,960 C870,970 920,1010 932,1070 C940,1120 910,1170 870,1200 C880,1150 870,1100 840,1070 C800,1030 740,1040 700,1090 C660,1140 655,1230 700,1285 C760,1350 880,1370 960,1370 C880,1395 760,1405 640,1360 C545,1320 505,1230 515,1140 C530,1050 600,990 680,950 C740,920 770,880 760,820 C750,780 700,770 645,825 Z"/>
  <path d="M760,1060 C820,1050 860,1090 860,1150 C858,1220 800,1265 740,1255 C690,1245 680,1190 710,1170 C740,1150 775,1175 765,1205 C800,1190 815,1150 800,1110 C790,1085 775,1070 760,1060 Z"/>
  <path d="M570,1355 C480,1240 360,1188 260,1192 C150,1198 88,1275 92,1352 C96,1425 165,1465 212,1445 C248,1430 245,1380 212,1372 C190,1368 170,1385 175,1400 C140,1370 140,1300 190,1265 C260,1220 400,1240 570,1355 Z"/>
 </g>
 <g fill="none" stroke="#231f20" stroke-linecap="round">
  <path d="M1115,140 C1080,100 1030,80 990,88 C958,95 948,130 968,150 C985,165 1008,152 1000,132" stroke-width="24"/>
  <path d="M1152,628 L1152,1190" stroke-width="16"/>
  <path d="M1075,1072 C1120,1090 1145,1140 1145,1200" stroke-width="14"/>
  <path d="M880,1385 C1000,1378 1100,1310 1148,1190" stroke-width="17"/>
  <path d="M990,1375 C1050,1345 1110,1360 1130,1410 C1150,1470 1120,1505 1085,1495 C1060,1488 1058,1458 1078,1450" stroke-width="16"/>
 </g>
 <circle cx="1080" cy="1450" r="14" fill="#231f20"/>
</g>
<use href="#logoHalf" transform="translate(6441.2,0) scale(-1,1)"/>
</g>
<g transform="translate(3060,2220) scale(0.14372)" fill="none" stroke="#231f20" stroke-linecap="round" stroke-linejoin="round">
 <path d="M130,100 C120,250 100,380 85,475" stroke-width="16"/>
 <path d="M70,108 C100,97 130,96 160,98" stroke-width="14"/>
 <path d="M152,105 L262,470" stroke-width="32"/>
 <path d="M262,470 L392,140" stroke-width="14"/>
 <path d="M400,100 C405,250 410,380 425,455 C432,475 455,478 480,462" stroke-width="28"/>
 <path d="M372,100 L432,96" stroke-width="14"/>
 <path d="M700,105 L525,478 M508,484 L560,480" stroke-width="14"/>
 <path d="M700,105 C740,250 770,360 800,450 C810,475 840,478 860,465" stroke-width="30"/>
 <path d="M600,315 C660,305 720,310 780,312" stroke-width="15"/>
 <path d="M612,283 C560,292 510,262 510,215 C510,170 560,140 612,150" stroke-width="15"/>
 <path d="M832,105 L965,320" stroke-width="32"/>
 <path d="M1098,100 L965,320" stroke-width="14"/>
 <path d="M965,320 C960,380 958,430 952,480" stroke-width="30"/>
 <path d="M818,108 L882,98 M1062,100 L1110,96" stroke-width="14"/>
 <path d="M1132,110 C1200,100 1320,98 1408,98" stroke-width="26"/>
 <path d="M1134,105 L1136,188" stroke-width="16"/>
 <path d="M1275,110 C1270,250 1262,380 1255,480" stroke-width="30"/>
 <path d="M1555,92 C1640,92 1700,180 1700,290 C1700,400 1640,485 1555,485 C1470,485 1410,400 1410,290 C1410,180 1470,92 1555,92 Z M1555,108 C1500,108 1452,190 1452,290 C1452,390 1500,470 1555,470 C1610,470 1658,390 1658,290 C1658,190 1610,108 1555,108 Z" fill="#231f20" fill-rule="evenodd" stroke="none"/>
 <path d="M1790,110 C1780,250 1765,380 1755,475" stroke-width="14"/>
 <path d="M1762,105 L2040,470" stroke-width="32"/>
 <path d="M2040,105 L2040,470" stroke-width="18"/>
 <path d="M1732,110 L1800,100 M2010,100 L2078,96" stroke-width="14"/>
 <path d="M2150,110 C2150,250 2150,380 2145,480" stroke-width="28"/>
 <path d="M2112,110 C2140,96 2168,94 2182,100" stroke-width="14"/>
</g>
<g fill="#231f20" font-family="Liberation Serif">
 <text x="3222" y="2325.6" text-anchor="middle" font-size="30.5" letter-spacing="1">CHANDELIERS</text>
</g>
<g fill="none" stroke="#231f20" stroke-width="2.5">
 <path d="M2524.2,482.5 L2524.2,987 M3254.2,482.7 L3254.2,975"/>
 <path d="M2519,492.3 L3260,492.3"/>
 <path d="M2901,616 L3342,616 M3150.4,1116.6 L3342.3,1116.6"/>
 <path d="M3333.3,609 L3333.3,1124"/>
 <path d="M2735.2,1196.5 L2735.2,1498 M3152.9,1196.5 L3152.9,1708"/>
 <path d="M2730,1206.1 L3159,1206.1"/>
 <path d="M2643.3,1511.4 L2723.4,1511.4 M2643.3,1733.8 L2723.4,1733.8"/>
 <path d="M2651.9,1504.5 L2651.9,1741"/>
</g>
<g fill="#231f20">
 <path d="M2517,492.3 L2550,486.7 L2550,497.9 Z"/>
 <path d="M3261.6,492.3 L3228.3,486.7 L3228.3,497.9 Z"/>
 <path d="M3333.3,608.7 L3327.8,641 L3338.8,641 Z"/>
 <path d="M3333.3,1124.5 L3327.8,1089.4 L3338.8,1089.4 Z"/>
 <path d="M2729,1206.1 L2762,1200.5 L2762,1211.7 Z"/>
 <path d="M3159.4,1206.1 L3127.2,1200.5 L3127.2,1211.7 Z"/>
 <path d="M2651.9,1504.1 L2646.4,1538.6 L2657.4,1538.6 Z"/>
 <path d="M2651.9,1741.2 L2646.4,1707.2 L2657.4,1707.2 Z"/>
</g>
<g font-family="Liberation Serif" fill="#231f20" font-size="63">
 <text x="2906" y="483.2" text-anchor="middle">355</text>
 <text x="2961.5" y="1197.3" text-anchor="middle">205</text>
 <text transform="translate(3324,841.9) rotate(-90)" text-anchor="middle">230</text>
 <text transform="translate(2642.3,1561) rotate(-90)" text-anchor="end">103</text>
</g>
<g transform="translate(2642.3,1668) rotate(-90)" fill="none" stroke="#231f20">
 <ellipse cx="-1.2" cy="-19.8" rx="12.5" ry="11.5" stroke-width="4.5"/>
 <path d="M-9,0.7 L6,-39.3" stroke-width="4.5"/>
</g>

</svg>
</body></html>
